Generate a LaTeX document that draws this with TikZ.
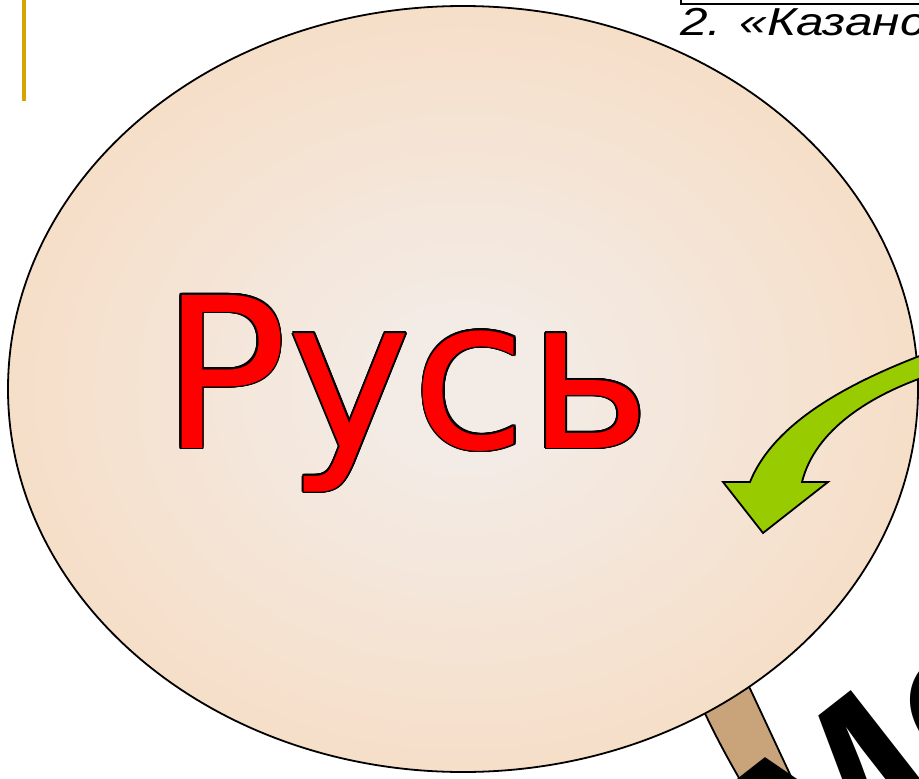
\documentclass[tikz,border=0pt]{standalone}
\usepackage{fontspec}
\usepackage{graphicx}
\usetikzlibrary{shapes.geometric}
\newfontfamily\rusfont{DejaVu Sans}
\newfontfamily\lsans{Liberation Sans}
\definecolor{bubc}{RGB}{243,235,229}
\definecolor{bube}{RGB}{249,212,176}
\definecolor{tailc}{RGB}{201,163,122}
\definecolor{arrowg}{RGB}{153,204,0}
\definecolor{barc}{RGB}{214,163,0}
\definecolor{rusred}{RGB}{255,0,0}
\pgfdeclareradialshading{bubble}{\pgfpoint{0bp}{0bp}}{color(0bp)=(bubc); color(5bp)=(bubc); color(42bp)=(bube); color(100bp)=(bube)}
\begin{document}
\begin{tikzpicture}[x=1pt,y=-1pt,
  outl/.style={draw=black, line width=1.8pt, line join=round},
  rus/.style={anchor=base west, inner sep=0pt, outer sep=0pt, font=\rusfont\fontsize{210}{210}\selectfont},
  bigtext/.style={anchor=base west, inner sep=0pt, outer sep=0pt, font=\lsans\bfseries\fontsize{215}{215}\selectfont},
  titletext/.style={anchor=base west, inner sep=0pt, outer sep=0pt, font=\lsans\itshape\fontsize{39}{39}\selectfont}]
\useasboundingbox (0,0) rectangle (919,779);
\clip (0,0) rectangle (919,779);
% yellow bar
\fill[barc] (22,0) rectangle (26,101);
% tail
\draw[outl, fill=tailc] (700,703) .. controls (715,735) and (728,760) .. (752,800)
  -- (802,800) -- (746,680) -- cycle;
% bubble
\node[ellipse, shade, shading=bubble, draw=black, line width=1.8pt,
  minimum width=910pt, minimum height=766pt, inner sep=0pt] (bubble) at (463,389) {};
% green arrow
\draw[outl, fill=arrowg, line join=miter]
  (930,352) .. controls (855,380) and (775,420) .. (750,482)
  -- (723,482) -- (763,533) -- (828,482) -- (802,482)
  .. controls (815,430) and (870,395) .. (930,375) -- cycle;
% Русь with black outline
\foreach \a in {0,22.5,...,337.5}
  \node[rus, text=black] at ([shift={(\a:1.7)}]161,448) {Русь};
\node[rus, text=rusred] (rus) at (161,448) {Русь};
% big black arched text (letters follow an arch)
\node[bigtext, rotate=38] (cityM) at (812.5,908) {М};
\node[bigtext, rotate=30] (cityO) at (941,786) {осква};
% title box and text
\draw[line width=2pt] (680.5,-10) -- (680.5,4.3) -- (940,4.3);
\node[titletext] (title) at (680,35) {\scalebox{1.27}[1]{2. «Казанское ханство»}};
\end{tikzpicture}
\end{document}
